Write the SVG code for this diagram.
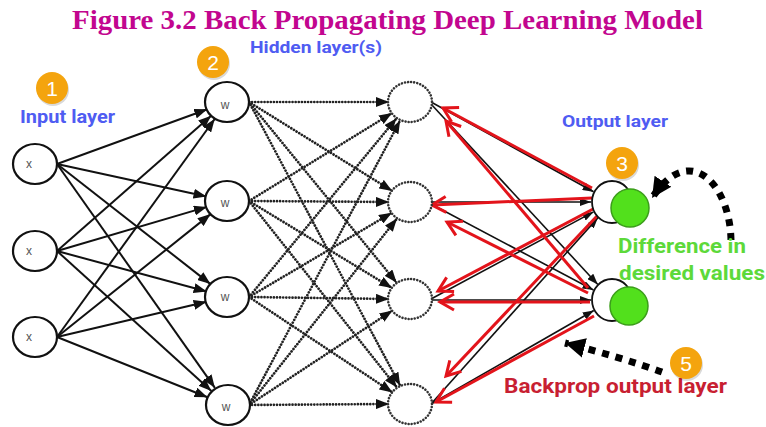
<svg xmlns="http://www.w3.org/2000/svg" width="766" height="427" viewBox="0 0 766 427">
<style>
.solid{stroke:#111;stroke-width:2;fill:none}
.dot{stroke:#222;stroke-width:2.7;stroke-dasharray:0.01 3.1;stroke-linecap:round;fill:none}
.thin{stroke:#111;stroke-width:1.6;fill:none}
.red{stroke:#E3141B;stroke-width:3;fill:none}
.big{stroke:#000;stroke-width:7;stroke-dasharray:7 7;fill:none}
.node{fill:#fff;stroke:#111;stroke-width:2.2}
.dnode{fill:#fff;stroke:#333;stroke-width:2.6;stroke-dasharray:0.01 3.1;stroke-linecap:round}
.lbl{font-family:"Liberation Sans",Arial,sans-serif;font-size:12px;fill:#555;text-anchor:middle}
.cap{font-family:Roboto,"Liberation Sans",sans-serif;font-weight:700}
.badge{fill:#F4A40E}
.num{font-family:"Liberation Sans",Arial,sans-serif;font-size:21px;fill:#fff;text-anchor:middle}
</style>
<defs>
<marker id="ah" markerUnits="userSpaceOnUse" markerWidth="14" markerHeight="10" viewBox="0 0 14 10" refX="13" refY="5" orient="auto"><path d="M0,0 L13,5 L0,10 z" fill="#111"/></marker>
<marker id="ahs" markerUnits="userSpaceOnUse" markerWidth="12" markerHeight="8" viewBox="0 0 12 8" refX="11" refY="4" orient="auto"><path d="M0,0 L11,4 L0,8 z" fill="#111"/></marker>
<marker id="chev" markerUnits="userSpaceOnUse" markerWidth="20" markerHeight="20" viewBox="-16 -10 18 20" refX="0" refY="0" orient="auto"><path d="M-14,-8 L0,0 L-14,8" fill="none" stroke="#E3141B" stroke-width="3"/></marker>
<marker id="bigah" markerUnits="userSpaceOnUse" markerWidth="22" markerHeight="22" viewBox="0 0 22 22" refX="20" refY="11" orient="auto"><path d="M0,1 L20,11 L0,21 z" fill="#000"/></marker>
</defs>
<rect width="766" height="427" fill="#fff"/>
<text x="72" y="29" textLength="631" lengthAdjust="spacingAndGlyphs" font-family="'Liberation Serif','Times New Roman',serif" font-weight="700" font-size="28" fill="#C2068F">Figure 3.2 Back Propagating Deep Learning Model</text>
<g id="connectors">
<g id="input-hidden">
<line class="solid" marker-end="url(#ah)" x1="57" y1="164" x2="207.3" y2="109.2"/>
<line class="solid" marker-end="url(#ah)" x1="57" y1="164" x2="206.5" y2="196.5"/>
<line class="solid" marker-end="url(#ah)" x1="57" y1="164" x2="210.5" y2="284.1"/>
<line class="solid" marker-end="url(#ah)" x1="57" y1="164" x2="214.9" y2="387.8"/>
<line class="solid" marker-end="url(#ah)" x1="57" y1="251" x2="211.2" y2="115.8"/>
<line class="solid" marker-end="url(#ah)" x1="57" y1="251" x2="206.9" y2="206.9"/>
<line class="solid" marker-end="url(#ah)" x1="57" y1="251" x2="206.7" y2="291.5"/>
<line class="solid" marker-end="url(#ah)" x1="57" y1="251" x2="211.4" y2="390.9"/>
<line class="solid" marker-end="url(#ah)" x1="57" y1="337" x2="214.7" y2="119.0"/>
<line class="solid" marker-end="url(#ah)" x1="57" y1="337" x2="210.6" y2="214.1"/>
<line class="solid" marker-end="url(#ah)" x1="57" y1="337" x2="206.6" y2="301.8"/>
<line class="solid" marker-end="url(#ah)" x1="57" y1="337" x2="207.5" y2="397.2"/>
</g>
<g id="hidden-hidden">
<line class="dot" marker-end="url(#ah)" x1="249" y1="102" x2="389" y2="102"/>
<line class="dot" marker-end="url(#ah)" x1="249" y1="102" x2="392.2" y2="190.9"/>
<line class="dot" marker-end="url(#ah)" x1="249" y1="102" x2="396.7" y2="282.7"/>
<line class="dot" marker-end="url(#ah)" x1="249" y1="102" x2="400.1" y2="385.5"/>
<line class="dot" marker-end="url(#ah)" x1="249" y1="201" x2="392.1" y2="113.0"/>
<line class="dot" marker-end="url(#ah)" x1="249" y1="201" x2="389" y2="202"/>
<line class="dot" marker-end="url(#ah)" x1="249" y1="201" x2="392.1" y2="288.1"/>
<line class="dot" marker-end="url(#ah)" x1="249" y1="201" x2="397.0" y2="387.5"/>
<line class="dot" marker-end="url(#ah)" x1="249" y1="297" x2="396.6" y2="118.2"/>
<line class="dot" marker-end="url(#ah)" x1="249" y1="297" x2="391.9" y2="212.7"/>
<line class="dot" marker-end="url(#ah)" x1="249" y1="297" x2="389" y2="299"/>
<line class="dot" marker-end="url(#ah)" x1="249" y1="297" x2="392.5" y2="392.4"/>
<line class="dot" marker-end="url(#ah)" x1="249" y1="405" x2="400.1" y2="120.5"/>
<line class="dot" marker-end="url(#ah)" x1="249" y1="405" x2="397.0" y2="218.5"/>
<line class="dot" marker-end="url(#ah)" x1="249" y1="405" x2="392.5" y2="310.5"/>
<line class="dot" marker-end="url(#ah)" x1="249" y1="405" x2="389" y2="404"/>
</g>
<g id="hidden-output">
<line class="thin" marker-end="url(#ahs)" x1="431" y1="102" x2="593.6" y2="191.8"/>
<line class="thin" marker-end="url(#ahs)" x1="431" y1="104" x2="597.8" y2="284.5"/>
<line class="thin" marker-end="url(#ahs)" x1="431" y1="202" x2="591" y2="202"/>
<line class="thin" marker-end="url(#ahs)" x1="431" y1="204" x2="593.5" y2="290"/>
<line class="thin" marker-end="url(#ahs)" x1="431" y1="299" x2="593.5" y2="211.9"/>
<line class="thin" marker-end="url(#ahs)" x1="431" y1="300" x2="591" y2="300"/>
<line class="thin" marker-end="url(#ahs)" x1="431" y1="404" x2="598" y2="217.6"/>
<line class="thin" marker-end="url(#ahs)" x1="431" y1="404" x2="593.8" y2="310.5"/>
</g>
<g id="backprop">
<line class="red" marker-end="url(#chev)" x1="592" y1="188" x2="443" y2="108"/>
<line class="red" marker-end="url(#chev)" x1="588" y1="288" x2="446" y2="121"/>
<line class="red" marker-end="url(#chev)" x1="592" y1="198" x2="432" y2="205"/>
<line class="red" marker-end="url(#chev)" x1="588" y1="293" x2="447" y2="222"/>
<line class="red" marker-end="url(#chev)" x1="595" y1="208" x2="438" y2="291"/>
<line class="red" marker-end="url(#chev)" x1="590" y1="302" x2="440" y2="302"/>
<line class="red" marker-end="url(#chev)" x1="598" y1="215" x2="446" y2="376"/>
<line class="red" marker-end="url(#chev)" x1="594" y1="316" x2="436" y2="402"/>
</g>
<path class="big" marker-end="url(#bigah)" d="M731,240 C730,185 690,140 652,198"/>
<path class="big" marker-end="url(#bigah)" d="M662,372 Q620,357 565,343"/>
</g>
<g id="input1"><ellipse class="node" cx="35" cy="164" rx="22" ry="20"/><text class="lbl" x="29" y="168">x</text></g>
<g id="input2"><ellipse class="node" cx="35" cy="251" rx="22" ry="20"/><text class="lbl" x="29" y="255">x</text></g>
<g id="input3"><ellipse class="node" cx="35" cy="337" rx="22" ry="20"/><text class="lbl" x="29" y="341">x</text></g>
<g id="h1a"><ellipse class="node" cx="227" cy="102" rx="22" ry="20"/><text class="lbl" x="225" y="109">w</text></g>
<g id="h1b"><ellipse class="node" cx="227" cy="201" rx="22" ry="20"/><text class="lbl" x="225" y="207">w</text></g>
<g id="h1c"><ellipse class="node" cx="227" cy="297" rx="22" ry="20"/><text class="lbl" x="225" y="301">w</text></g>
<g id="h1d"><ellipse class="node" cx="228" cy="405" rx="22" ry="20"/><text class="lbl" x="226" y="411">w</text></g>
<g id="h2a"><ellipse class="dnode" cx="410" cy="102" rx="22" ry="20"/></g>
<g id="h2b"><ellipse class="dnode" cx="410" cy="202" rx="22" ry="20"/></g>
<g id="h2c"><ellipse class="dnode" cx="410" cy="299" rx="22" ry="20"/></g>
<g id="h2d"><ellipse class="dnode" cx="410" cy="404" rx="22" ry="20"/></g>
<g id="out1"><ellipse fill="#fff" stroke="#111" stroke-width="1.8" cx="612" cy="202" rx="20" ry="21"/><circle cx="630" cy="208" r="19" fill="#52E01C" stroke="#3B9E1A" stroke-width="1.5"/></g>
<g id="out2"><ellipse fill="#fff" stroke="#111" stroke-width="1.8" cx="612" cy="300" rx="20" ry="21"/><circle cx="629" cy="306" r="19" fill="#52E01C" stroke="#3B9E1A" stroke-width="1.5"/></g>
<g id="labels">
<text class="cap" x="250" y="53" font-size="16" fill="#4F5CF2" textLength="132" lengthAdjust="spacingAndGlyphs">Hidden layer(s)</text>
<text class="cap" x="20" y="123" font-size="19" fill="#4F5CF2" textLength="95" lengthAdjust="spacingAndGlyphs">Input layer</text>
<text class="cap" x="562" y="127" font-size="17" fill="#4F5CF2" textLength="106" lengthAdjust="spacingAndGlyphs">Output layer</text>
<text class="cap" x="618" y="253" font-size="21" fill="#5DD93A" textLength="128" lengthAdjust="spacingAndGlyphs">Difference in</text>
<text class="cap" x="619" y="280" font-size="21" fill="#5DD93A" textLength="146" lengthAdjust="spacingAndGlyphs">desired values</text>
<text class="cap" x="504" y="393" font-size="21" fill="#C81F32" textLength="223" lengthAdjust="spacingAndGlyphs">Backprop output layer</text>
</g>
<g id="badge1"><circle cx="53" cy="90" r="16" fill="#000" opacity="0.15"/><circle class="badge" cx="52" cy="88" r="16"/><text class="num" x="52" y="96">1</text></g>
<g id="badge2"><circle cx="214" cy="64" r="16" fill="#000" opacity="0.15"/><circle class="badge" cx="213" cy="62" r="16"/><text class="num" x="213" y="70">2</text></g>
<g id="badge3"><circle cx="623" cy="165" r="16" fill="#000" opacity="0.15"/><circle class="badge" cx="622" cy="163" r="16"/><text class="num" x="622" y="171">3</text></g>
<g id="badge5"><circle cx="687" cy="365" r="16" fill="#000" opacity="0.15"/><circle class="badge" cx="686" cy="363" r="16"/><text class="num" x="686" y="371">5</text></g>
</svg>
